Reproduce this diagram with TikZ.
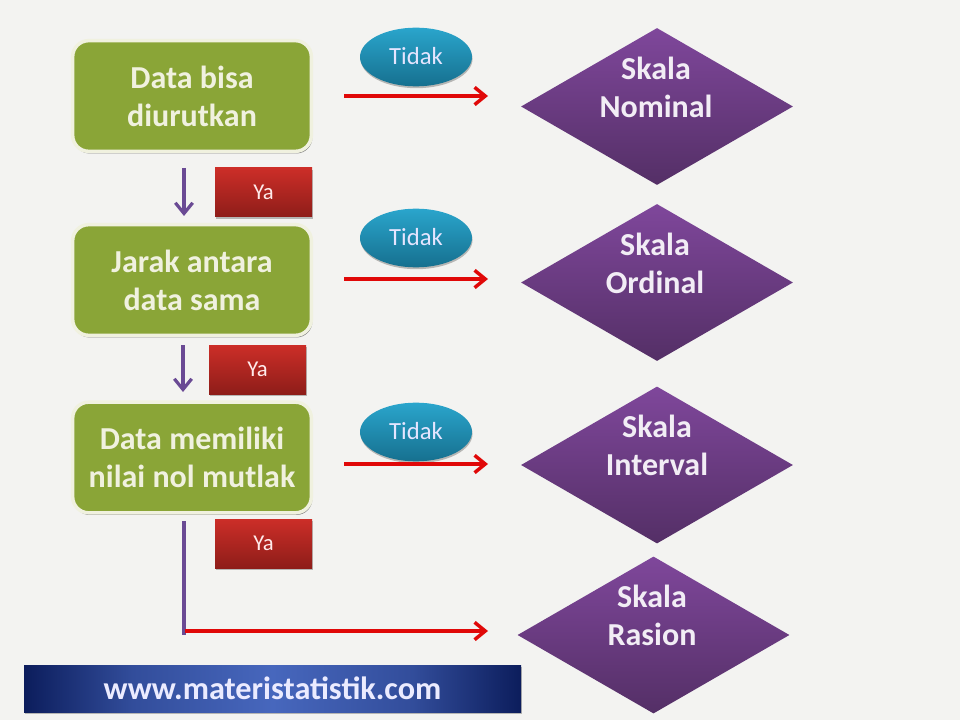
\documentclass[tikz,border=0pt]{standalone}
\usepackage{fontspec}
\setmainfont{Carlito}
\usetikzlibrary{shapes.geometric,arrows.meta,shadows,calc}
\definecolor{bgc}{HTML}{F3F3F1}
\definecolor{greenc}{HTML}{8AA537}
\definecolor{creamc}{HTML}{F0F1DF}
\definecolor{redtop}{HTML}{CC2E28}
\definecolor{redbot}{HTML}{8E1D19}
\definecolor{bluetop}{HTML}{2AA5CC}
\definecolor{bluebot}{HTML}{16708F}
\definecolor{purptop}{HTML}{7F479B}
\definecolor{purpbot}{HTML}{542F66}
\definecolor{purpline}{HTML}{6A4A94}
\definecolor{arrred}{HTML}{E00808}
\definecolor{navy}{HTML}{0C1D5C}
\definecolor{midblue}{HTML}{4767BD}
\pgfdeclarehorizontalshading{bannershade}{100bp}{
  color(0bp)=(navy); color(25bp)=(navy); color(36bp)=(midblue!65!navy);
  color(50bp)=(midblue); color(64bp)=(midblue!65!navy); color(75bp)=(navy); color(100bp)=(navy)}
\tikzset{
  softshadow/.style={drop shadow={shadow xshift=0.4pt,shadow yshift=-1.4pt,opacity=.25,fill=black}},
  greenbox/.style={rectangle,rounded corners=12pt,draw=creamc,line width=2.6pt,fill=greenc,
    minimum width=179pt,minimum height=83pt,text=creamc,align=center,inner sep=0pt,
    font=\fontsize{24}{28.5}\selectfont\bfseries,
    drop shadow={shadow xshift=0.8pt,shadow yshift=-1.6pt,opacity=.45,fill=black}},
  yabox/.style={rectangle,top color=redtop,bottom color=redbot,minimum width=72.75pt,minimum height=36.75pt,
    text=white!92!red,inner sep=0pt,font=\fontsize{17}{20}\selectfont,softshadow},
  tidakoval/.style={ellipse,top color=bluetop,bottom color=bluebot,minimum width=84pt,minimum height=44pt,
    text=white!90!blue,inner sep=0pt,font=\fontsize{18.5}{21}\selectfont,softshadow},
  scalediamond/.style={diamond,top color=purptop,bottom color=purpbot,minimum width=204pt,minimum height=117.75pt,
    aspect=1.732,inner sep=0pt},
  scaletext/.style={text=white!90!purptop,align=center,inner sep=0pt,font=\fontsize{24}{28.5}\selectfont\bfseries},
  redarrow/.style={draw=arrred,line width=2.6pt,-{Straight Barb[length=8pt,width=13pt,line width=2.6pt]}},
  purparrow/.style={draw=purpline,line width=2.4pt,-{Straight Barb[length=8pt,width=13pt,line width=2.4pt]}},
  purpstem/.style={draw=purpline,line width=2.6pt},
  banner/.style={rectangle,shading=bannershade,minimum width=372.75pt,minimum height=35.25pt,
    text=white!92!blue,inner sep=0pt,font=\fontsize{24.2}{28}\selectfont\bfseries,softshadow}
}
\begin{document}
\begin{tikzpicture}[x=0.75pt,y=-0.75pt]
\useasboundingbox (0,0) rectangle (960,720);
\fill[bgc] (0,0) rectangle (960,720);

% question boxes
\node[greenbox] (q1) at (192,96) {Data bisa\\diurutkan};
\node[greenbox] (q2) at (192,280) {Jarak antara\\data sama};
\node[greenbox] (q3) at (192,457.5) {Data memiliki\\nilai nol mutlak};

% Ya labels
\node[yabox] (y1) at (263.5,192.5) {Ya};
\node[yabox] (y2) at (257.5,369.5) {Ya};
\node[yabox] (y3) at (263.5,543.5) {Ya};

% Tidak labels
\node[tidakoval] (t1) at (416,57) {\raisebox{1pt}{Tidak}};
\node[tidakoval] (t2) at (416,238) {\raisebox{1pt}{Tidak}};
\node[tidakoval] (t3) at (416,432) {\raisebox{1pt}{Tidak}};

% result diamonds
\node[scalediamond] (d1) at (657,106.5) {};
\node[scalediamond] (d2) at (657,282.5) {};
\node[scalediamond] (d3) at (657,465) {};
\node[scalediamond] (d4) at (653.5,635) {};
\node[scaletext] (s1) at (656,87) {Skala\\Nominal};
\node[scaletext] (s2) at (655,263) {Skala\\Ordinal};
\node[scaletext] (s3) at (657,445) {Skala\\Interval};
\node[scaletext] (s4) at (652,615) {Skala\\Rasion};

% banner
\node[banner] (web) at (272.5,688.5) {www.materistatistik.com};

% connector ends
\coordinate (a1s) at (344,96);
\coordinate (a1e) at (488,96);
\coordinate (a2s) at (344,279);
\coordinate (a2e) at (488,279);
\coordinate (a3s) at (344,464);
\coordinate (a3e) at (488,464);
\coordinate (a4s) at (185,631);
\coordinate (a4e) at (488,631);
\coordinate (p1s) at (184,168);
\coordinate (p1e) at (184,216);
\coordinate (p2s) at (183,345);
\coordinate (p2e) at (183,392);
\coordinate (p3s) at (184,521);
\coordinate (p3e) at (184,635);

\draw[purparrow] (p1s) -- (p1e);
\draw[purparrow] (p2s) -- (p2e);
\draw[purpstem] (p3s) -- (p3e);
\draw[redarrow] (a1s) -- (a1e);
\draw[redarrow] (a2s) -- (a2e);
\draw[redarrow] (a3s) -- (a3e);
\draw[redarrow] (a4s) -- (a4e);
\end{tikzpicture}
\end{document}
